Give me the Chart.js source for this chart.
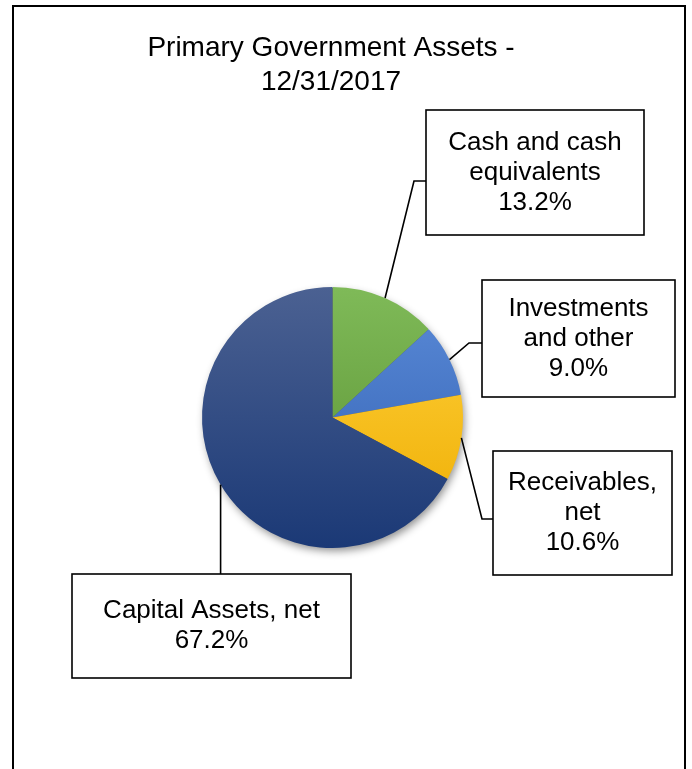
<!DOCTYPE html>
<html>
<head>
<meta charset="utf-8">
<script src="https://cdn.jsdelivr.net/npm/chart.js@4/dist/chart.umd.min.js"></script>
<style>
  html, body { margin: 0; padding: 0; background: #fff; }
  #wrap { position: relative; width: 692px; height: 769px; overflow: hidden; }
  #frame { position: absolute; left: 12px; top: 5px; width: 670px; height: 800px;
           border: 2px solid #000; border-bottom: none; }
  canvas { position: absolute; left: 0; top: 0; }
</style>
</head>
<body>
<div id="wrap">
  <div id="frame"></div>
  <canvas id="c" width="692" height="769"></canvas>
</div>
<script>
// ---- data ----
const titleLines = ['Primary Government Assets -', '12/31/2017'];
const categories = ['Cash and cash equivalents', 'Investments and other', 'Receivables, net', 'Capital Assets, net'];
const labelLines = [['Cash and cash', 'equivalents'], ['Investments', 'and other'], ['Receivables,', 'net'], ['Capital Assets, net']];
const shares = [13.2, 9.0, 10.6, 67.2];

// ---- styles ----
const topColors = ['#7fba58', '#5b8bd8', '#ffd23e', '#4b6192'];
const bottomColors = ['#588f30', '#2f5eb0', '#eeac00', '#1b3976'];
const FONT = "'Liberation Sans', Arial, sans-serif";

// callout geometry (box + elbow point)
const callouts = [
  { box: [426, 110, 644, 235], elbow: [414, 181], attach: [426, 181] },
  { box: [482, 280, 675, 397], elbow: [469, 343], attach: [482, 343] },
  { box: [493, 451, 672, 575], elbow: [482, 519], attach: [493, 519] },
  { box: [72, 574, 351, 678], elbow: null, attach: null, vertical: 574 }
];

function grad(c) {
  const i = c.dataIndex;
  const chart = c.chart;
  const area = chart.chartArea;
  if (!area) return bottomColors[i];
  const g = chart.ctx.createLinearGradient(0, area.top, 0, area.bottom);
  g.addColorStop(0, topColors[i]);
  g.addColorStop(1, bottomColors[i]);
  return g;
}

const shadowPlugin = {
  id: 'pieShadow',
  beforeDatasetsDraw(chart) {
    const arc = chart.getDatasetMeta(0).data[0];
    if (!arc) return;
    const p = arc.getProps(['x', 'y', 'outerRadius'], true);
    const ctx = chart.ctx;
    ctx.save();
    ctx.shadowColor = 'rgba(0,0,0,0.45)';
    ctx.shadowBlur = 9;
    ctx.shadowOffsetX = 2;
    ctx.shadowOffsetY = 4;
    ctx.beginPath();
    ctx.arc(p.x, p.y, p.outerRadius - 1, 0, Math.PI * 2);
    ctx.fillStyle = '#555';
    ctx.fill();
    ctx.restore();
  }
};

const titlePlugin = {
  id: 'bigTitle',
  afterDraw(chart) {
    const ctx = chart.ctx;
    ctx.save();
    ctx.fillStyle = '#000';
    ctx.font = '28px ' + FONT;
    ctx.textAlign = 'center';
    ctx.textBaseline = 'middle';
    titleLines.forEach((t, k) => ctx.fillText(t, 331, 48 + k * 34));
    ctx.restore();
  }
};

const calloutPlugin = {
  id: 'callouts',
  afterDraw(chart) {
    const ctx = chart.ctx;
    const meta = chart.getDatasetMeta(0);
    ctx.save();
    meta.data.forEach((arc, i) => {
      const p = arc.getProps(['x', 'y', 'startAngle', 'endAngle', 'outerRadius'], true);
      const mid = (p.startAngle + p.endAngle) / 2;
      const px = p.x + Math.cos(mid) * p.outerRadius;
      const py = p.y + Math.sin(mid) * p.outerRadius;
      const co = callouts[i];
      ctx.beginPath();
      ctx.moveTo(px, py);
      if (co.elbow) ctx.lineTo(co.elbow[0], co.elbow[1]);
      if (co.attach) ctx.lineTo(co.attach[0], co.attach[1]);
      else ctx.lineTo(px, co.vertical);
      ctx.strokeStyle = '#000';
      ctx.lineWidth = 1.6;
      ctx.stroke();

      const [x0, y0, x1, y1] = co.box;
      ctx.fillStyle = '#fff';
      ctx.fillRect(x0, y0, x1 - x0, y1 - y0);
      ctx.lineWidth = 1.6;
      ctx.strokeRect(x0, y0, x1 - x0, y1 - y0);

      const lines = labelLines[i].concat([shares[i].toFixed(1) + '%']);
      const lh = 30;
      const cx = (x0 + x1) / 2;
      const cy = (y0 + y1) / 2;
      ctx.fillStyle = '#000';
      ctx.font = '26px ' + FONT;
      ctx.textAlign = 'center';
      ctx.textBaseline = 'middle';
      lines.forEach((t, k) => {
        ctx.fillText(t, cx, cy + (k - (lines.length - 1) / 2) * lh);
      });
    });
    ctx.restore();
  }
};

new Chart(document.getElementById('c'), {
  type: 'pie',
  data: {
    labels: categories,
    datasets: [{
      data: shares,
      backgroundColor: grad,
      borderWidth: 0
    }]
  },
  options: {
    responsive: false,
    animation: false,
    events: [],
    layout: { padding: { left: 202, right: 229, top: 287, bottom: 221 } },
    plugins: {
      legend: { display: false },
      tooltip: { enabled: false },
      title: { display: false }
    }
  },
  plugins: [shadowPlugin, calloutPlugin, titlePlugin]
});
</script>
</body>
</html>
